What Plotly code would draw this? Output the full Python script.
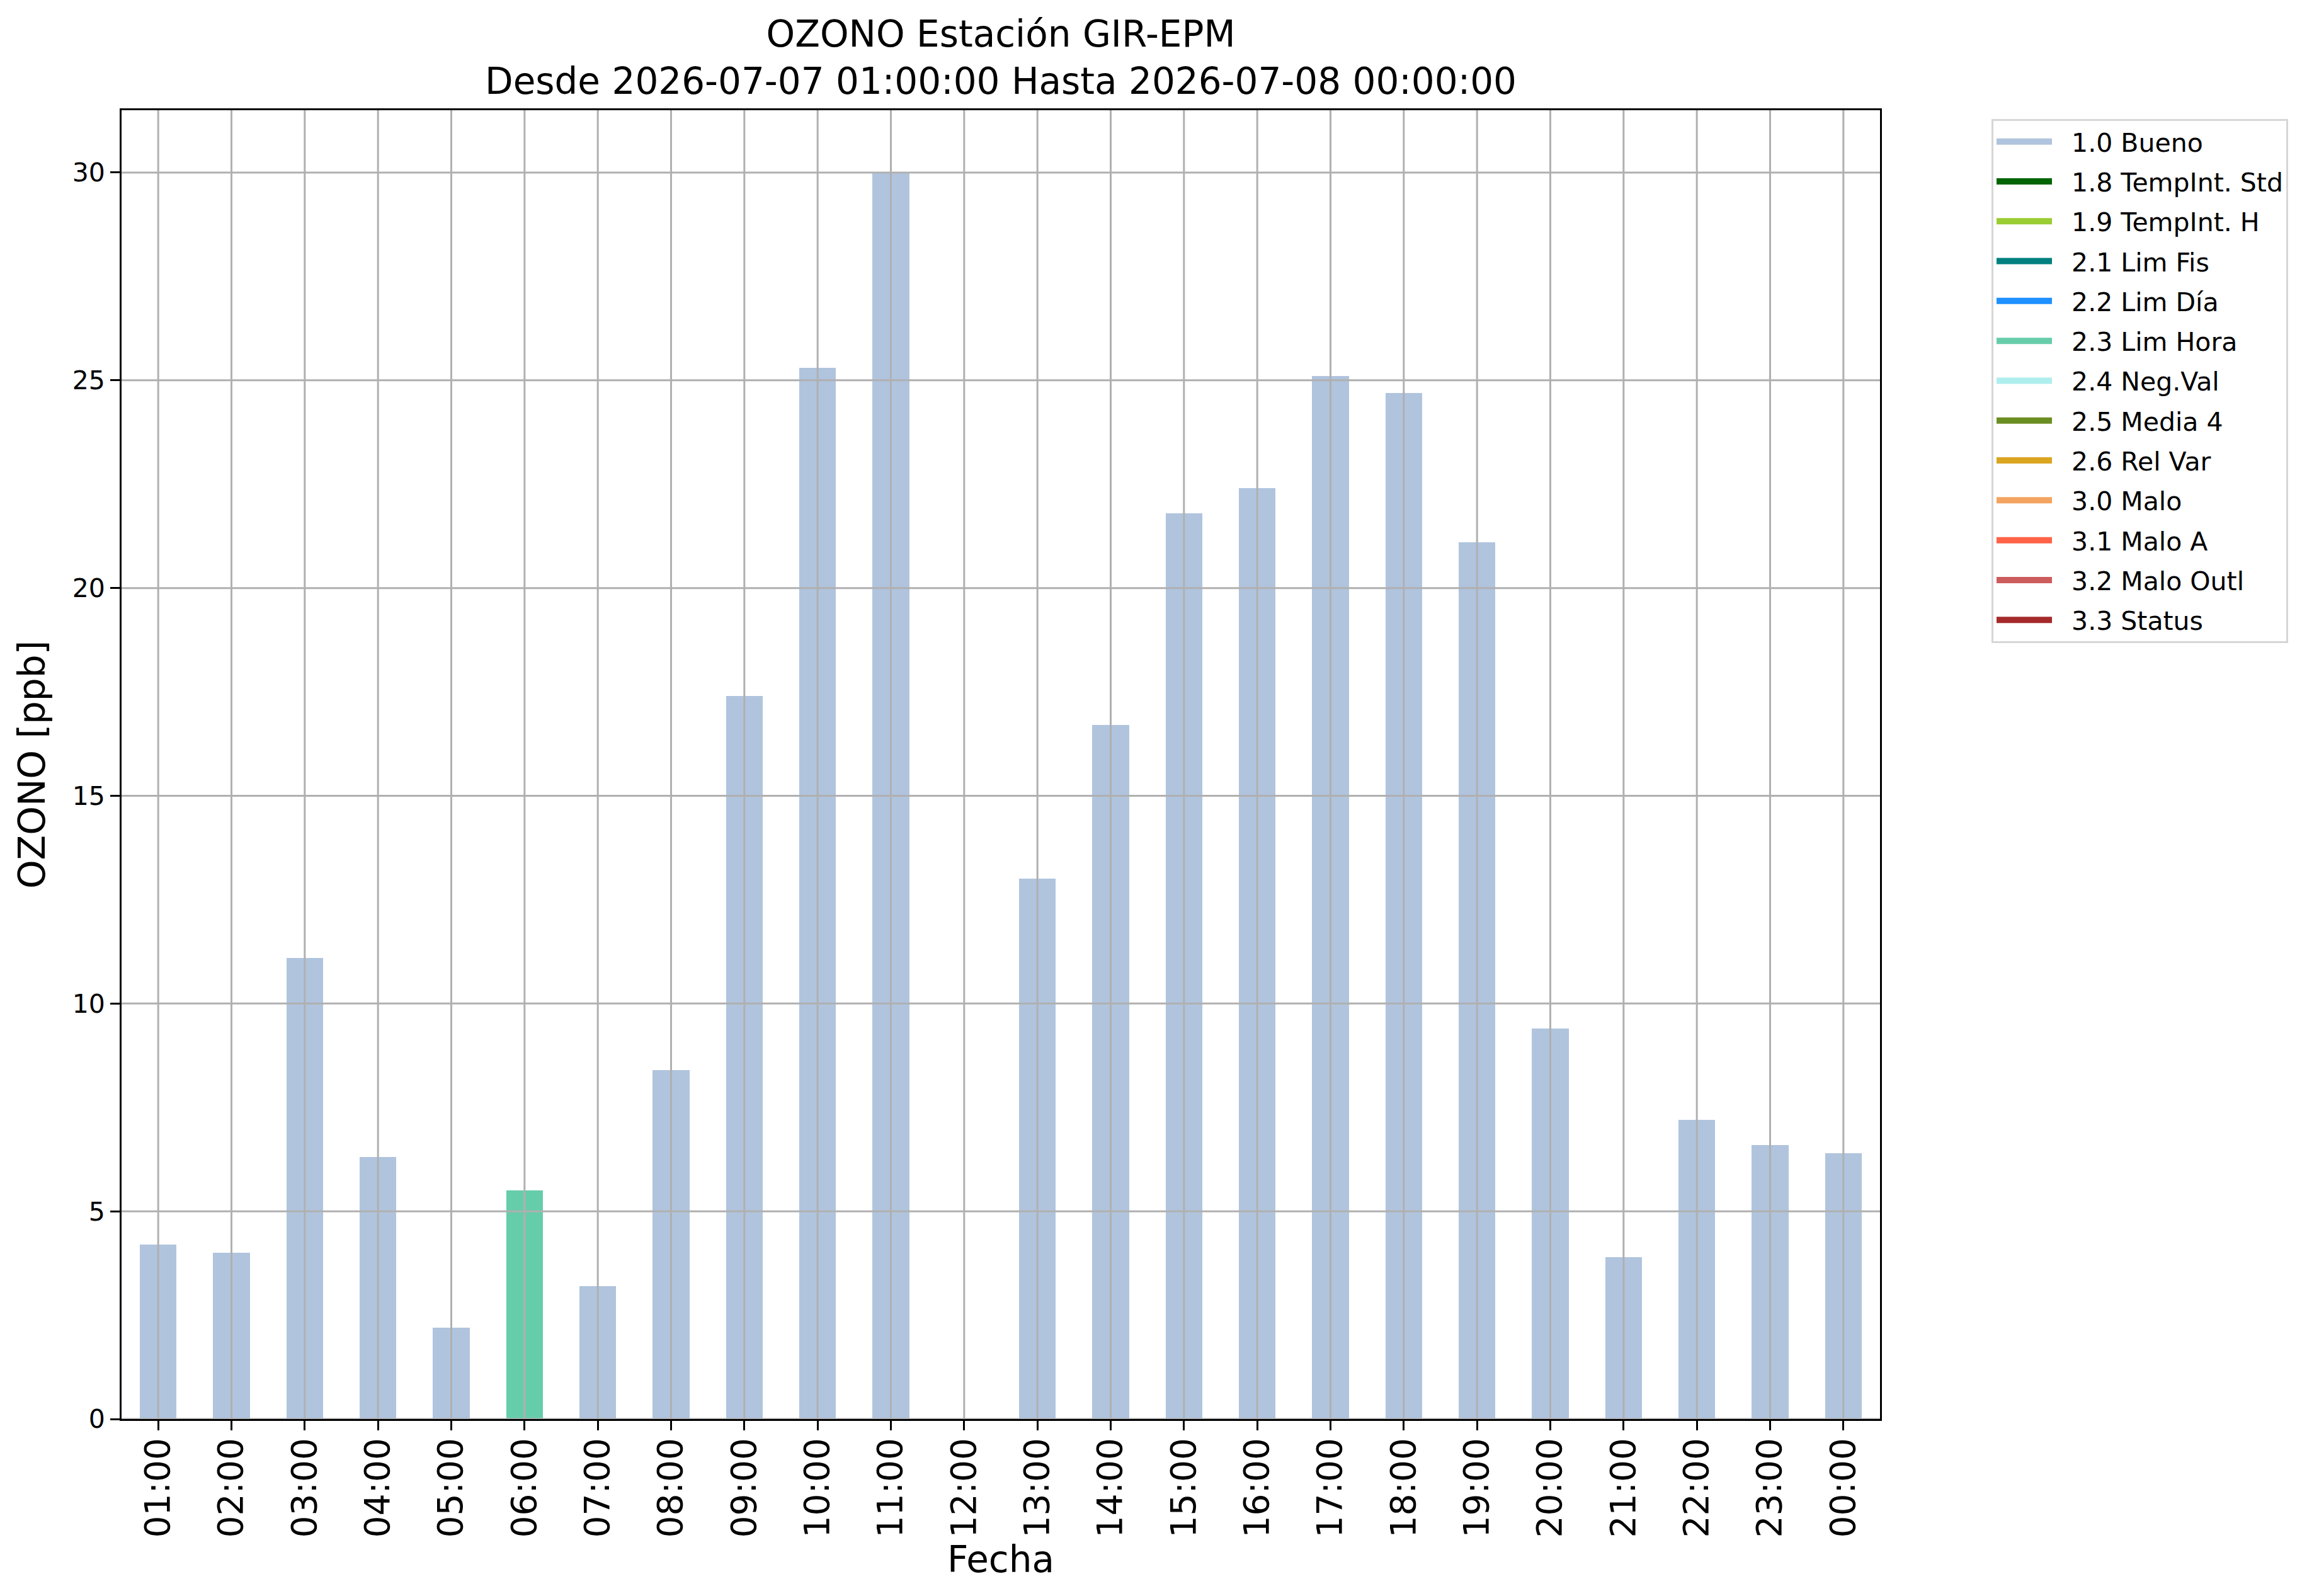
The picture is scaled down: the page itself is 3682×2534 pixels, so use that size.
import plotly.graph_objects as go

# horas del dia (eje x) y concentracion de ozono [ppb]
horas = ['01:00', '02:00', '03:00', '04:00', '05:00', '06:00', '07:00', '08:00',
         '09:00', '10:00', '11:00', '12:00', '13:00', '14:00', '15:00', '16:00',
         '17:00', '18:00', '19:00', '20:00', '21:00', '22:00', '23:00', '00:00']
ozono = [4.2, 4.0, 11.1, 6.3, 2.2, 5.5, 3.2, 8.4, 17.4, 25.3, 30.0, None,
         13.0, 16.7, 21.8, 22.4, 25.1, 24.7, 21.1, 9.4, 3.9, 7.2, 6.6, 6.4]
# bandera de calidad de cada hora
banderas = [1.0, 1.0, 1.0, 1.0, 1.0, 2.3, 1.0, 1.0, 1.0, 1.0, 1.0, None,
            1.0, 1.0, 1.0, 1.0, 1.0, 1.0, 1.0, 1.0, 1.0, 1.0, 1.0, 1.0]

codigos = [1.0, 1.8, 1.9, 2.1, 2.2, 2.3, 2.4, 2.5, 2.6, 3.0, 3.1, 3.2, 3.3]
etiquetas = ['1.0 Bueno', '1.8 TempInt. Std', '1.9 TempInt. H', '2.1 Lim Fis',
             '2.2 Lim Día', '2.3 Lim Hora', '2.4 Neg.Val', '2.5 Media 4',
             '2.6 Rel Var', '3.0 Malo', '3.1 Malo A', '3.2 Malo Outl', '3.3 Status']
colores = ['#B0C4DE', '#006400', '#9ACD32', '#008080', '#1E90FF', '#66CDAA',
           '#AFEEEE', '#6B8E23', '#DAA520', '#F4A460', '#FF6347', '#CD5C5C', '#A52A2A']

yticks = [0, 5, 10, 15, 20, 25, 30]

fig = go.Figure()
for cod, lab, col in zip(codigos, etiquetas, colores):
    y = [v if b == cod else None for v, b in zip(ozono, banderas)]
    fig.add_trace(go.Bar(x=horas, y=y, name=lab, width=0.5,
                         marker=dict(color=col, line=dict(width=0)),
                         legendgroup=lab, showlegend=False))
    # entrada de leyenda con una franja ancha, parecida al parche de matplotlib
    fig.add_trace(go.Scatter(x=[None], y=[None], mode='lines',
                             name='\u00a0\u00a0' + lab,
                             line=dict(color=col, width=10),
                             legendgroup=lab, showlegend=True))

grid = dict(color='#b0b0b0', width=3)
# rejilla encima de las barras, como en matplotlib
for h in horas:
    fig.add_shape(type='line', xref='x', yref='paper', x0=h, x1=h, y0=0, y1=1,
                  line=grid, layer='above')
for t in yticks:
    fig.add_shape(type='line', xref='paper', yref='y', x0=0, x1=1, y0=t, y1=t,
                  line=grid, layer='above')

fig.update_layout(
    width=3682, height=2534,
    barmode='stack',
    plot_bgcolor='white', paper_bgcolor='white',
    font=dict(family='DejaVu Sans', color='black', size=41),
    margin=dict(l=185, r=705, t=167, b=289),
    title=dict(text='OZONO Estación GIR-EPM<br>Desde 2026-07-07 01:00:00 Hasta 2026-07-08 00:00:00',
               x=0.5, xref='paper', xanchor='center',
               y=0.974, yref='container', yanchor='top',
               font=dict(size=58)),
    legend=dict(x=1.0634, y=0.9935, xanchor='left', yanchor='top',
                bgcolor='white', bordercolor='#d6d6d6', borderwidth=3,
                font=dict(size=41), tracegroupgap=7, traceorder='grouped',
                itemwidth=88),
    showlegend=True,
)
fig.update_xaxes(type='category', categoryorder='array', categoryarray=horas,
                 range=[-0.5, 23.5], tickangle=-90, tickfont=dict(size=55),
                 ticks='outside', ticklen=15, tickwidth=3, tickcolor='black',
                 ticklabelstandoff=-10,
                 showline=True, linecolor='black', linewidth=3, mirror=True,
                 showgrid=False,
                 title=dict(text='Fecha', font=dict(size=58), standoff=4))
fig.update_yaxes(range=[0, 31.5], tickvals=yticks, tickfont=dict(size=41),
                 ticks='outside', ticklen=15, tickwidth=3, tickcolor='black',
                 showline=True, linecolor='black', linewidth=3, mirror=True,
                 showgrid=False, zeroline=False,
                 title=dict(text='OZONO [ppb]', font=dict(size=58), standoff=25))

fig.write_html("out.html")
